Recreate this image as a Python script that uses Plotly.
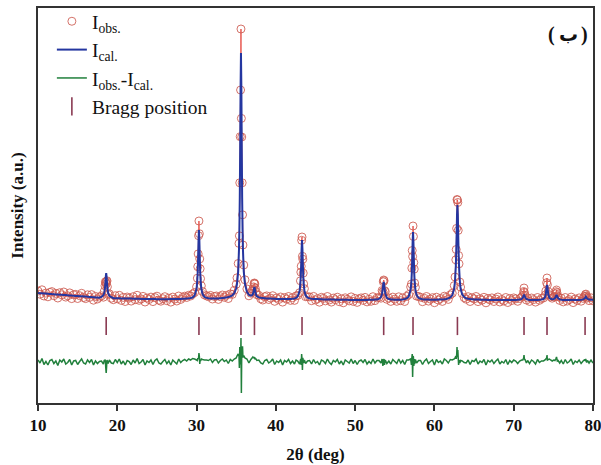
import plotly.graph_objects as go

# ---------------- data (2theta in degrees, intensity in arbitrary counts) ----------------
TWO_THETA = [
    # 10 - 17.75
    10.0, 10.25, 10.5, 10.75, 11.0, 11.25, 11.5, 11.75, 12.0, 12.25, 12.5, 12.75, 13.0, 13.25, 13.5, 13.75,
    14.0, 14.25, 14.5, 14.75, 15.0, 15.25, 15.5, 15.75, 16.0, 16.25, 16.5, 16.75, 17.0, 17.25, 17.5, 17.75,
    # peak 18.6
    18.0, 18.25, 18.35, 18.45, 18.5, 18.55, 18.6, 18.65, 18.7, 18.75, 18.85, 19.0, 19.25,
    # 19.5 - 29.5
    19.5, 19.75, 20.0, 20.25, 20.5, 20.75, 21.0, 21.25, 21.5, 21.75, 22.0, 22.25, 22.5, 22.75, 23.0, 23.25,
    23.5, 23.75, 24.0, 24.25, 24.5, 24.75, 25.0, 25.25, 25.5, 25.75, 26.0, 26.25, 26.5, 26.75, 27.0, 27.25,
    27.5, 27.75, 28.0, 28.25, 28.5, 28.75, 29.0, 29.25, 29.5,
    # peak 30.3
    29.75, 30.0, 30.1, 30.15, 30.2, 30.25, 30.3, 30.35, 30.4, 30.45, 30.5, 30.6, 30.75, 31.0,
    # 31.25 - 34.75
    31.25, 31.5, 31.75, 32.0, 32.25, 32.5, 32.75, 33.0, 33.25, 33.5, 33.75, 34.0, 34.25, 34.5, 34.75,
    # peak 35.6
    35.0, 35.1, 35.25, 35.35, 35.4, 35.45, 35.5, 35.55, 35.6, 35.65, 35.7, 35.75, 35.8, 35.85, 35.95, 36.1,
    36.35, 36.6,
    # peak 37.3
    36.85, 37.0, 37.1, 37.2, 37.25, 37.3, 37.35, 37.4, 37.5, 37.6, 37.85, 38.1,
    # 38.35 - 42.55
    38.35, 38.6, 38.85, 39.1, 39.35, 39.6, 39.85, 40.1, 40.35, 40.6, 40.85, 41.1, 41.35, 41.6, 41.85, 42.1,
    42.35, 42.55,
    # peak 43.3
    42.75, 43.0, 43.1, 43.15, 43.2, 43.25, 43.3, 43.35, 43.4, 43.45, 43.5, 43.6, 43.75, 44.0,
    # 44.25 - 52.75
    44.25, 44.5, 44.75, 45.0, 45.25, 45.5, 45.75, 46.0, 46.25, 46.5, 46.75, 47.0, 47.25, 47.5, 47.75, 48.0,
    48.25, 48.5, 48.75, 49.0, 49.25, 49.5, 49.75, 50.0, 50.25, 50.5, 50.75, 51.0, 51.25, 51.5, 51.75, 52.0,
    52.25, 52.5, 52.75,
    # peak 53.6
    53.0, 53.25, 53.4, 53.5, 53.55, 53.6, 53.65, 53.7, 53.8, 54.0, 54.25,
    # 54.5 - 56.5
    54.5, 54.75, 55.0, 55.25, 55.5, 55.75, 56.0, 56.25, 56.5,
    # peak 57.3
    56.75, 57.0, 57.1, 57.15, 57.2, 57.25, 57.3, 57.35, 57.4, 57.45, 57.5, 57.6, 57.75, 58.0,
    # 58.25 - 62.0
    58.25, 58.5, 58.75, 59.0, 59.25, 59.5, 59.75, 60.0, 60.25, 60.5, 60.75, 61.0, 61.25, 61.5, 61.75, 62.0,
    # peak 62.9
    62.25, 62.5, 62.6, 62.7, 62.75, 62.8, 62.85, 62.9, 62.95, 63.0, 63.05, 63.1, 63.2, 63.3, 63.5, 63.75,
    # 64.0 - 70.5
    64.0, 64.25, 64.5, 64.75, 65.0, 65.25, 65.5, 65.75, 66.0, 66.25, 66.5, 66.75, 67.0, 67.25, 67.5, 67.75,
    68.0, 68.25, 68.5, 68.75, 69.0, 69.25, 69.5, 69.75, 70.0, 70.25, 70.5,
    # peak 71.3
    70.75, 71.0, 71.15, 71.25, 71.3, 71.35, 71.45, 71.6, 71.75,
    # 72.0 - 73.5
    72.0, 72.25, 72.5, 72.75, 73.0, 73.25, 73.5,
    # peak 74.2
    73.75, 73.95, 74.05, 74.15, 74.2, 74.25, 74.35, 74.5, 74.65, 74.85,
    # peak 75.4
    75.05, 75.2, 75.3, 75.35, 75.4, 75.45, 75.5, 75.6, 75.8,
    # 76.0 - 78.5
    76.0, 76.25, 76.5, 76.75, 77.0, 77.25, 77.5, 77.75, 78.0, 78.25, 78.5,
    # peak 79.1
    78.75, 78.9, 79.0, 79.05, 79.1, 79.15, 79.2, 79.3, 79.5,
    79.75, 80.0,
]

I_CAL = [
    1100, 1098, 1097, 1095, 1094, 1092, 1091, 1089, 1088, 1086, 1085, 1083, 1082, 1080, 1079, 1077,
    1076, 1074, 1073, 1071, 1070, 1068, 1067, 1065, 1064, 1062, 1061, 1059, 1058, 1056, 1055, 1053,
    1062, 1078, 1100, 1152, 1202, 1265, 1300, 1265, 1202, 1152, 1100, 1072, 1058,
    1048, 1048, 1047, 1047, 1046, 1046, 1045, 1045, 1044, 1044, 1043, 1043, 1042, 1042, 1041, 1041,
    1040, 1040, 1040, 1039, 1039, 1039, 1038, 1038, 1038, 1038, 1038, 1038, 1038, 1039, 1039, 1039,
    1040, 1040, 1041, 1042, 1043, 1045, 1047, 1050, 1055,
    1075, 1142, 1233, 1323, 1461, 1633, 1730, 1633, 1461, 1323, 1233, 1142, 1090, 1061,
    1052, 1048, 1046, 1045, 1045, 1045, 1046, 1048, 1050, 1052, 1056, 1060, 1066, 1076, 1097,
    1147, 1192, 1315, 1536, 1732, 2052, 2543, 3156, 3500, 3156, 2543, 2052, 1732, 1536, 1315, 1192,
    1111, 1082,
    1073, 1078, 1088, 1121, 1146, 1160, 1145, 1118, 1082, 1068, 1056, 1052,
    1050, 1048, 1046, 1045, 1044, 1043, 1042, 1041, 1040, 1040, 1039, 1039, 1039, 1040, 1041, 1043,
    1046, 1051,
    1065, 1123, 1202, 1279, 1398, 1547, 1630, 1547, 1398, 1279, 1202, 1123, 1078, 1053,
    1046, 1043, 1041, 1040, 1039, 1038, 1037, 1036, 1036, 1035, 1035, 1034, 1034, 1033, 1033, 1033,
    1032, 1032, 1032, 1032, 1031, 1031, 1031, 1031, 1031, 1031, 1031, 1031, 1031, 1031, 1032, 1032,
    1033, 1034, 1035,
    1041, 1058, 1095, 1154, 1192, 1210, 1192, 1154, 1095, 1052, 1040,
    1036, 1034, 1033, 1032, 1032, 1033, 1036, 1040, 1046,
    1064, 1131, 1220, 1309, 1445, 1615, 1710, 1615, 1445, 1309, 1220, 1131, 1079, 1050,
    1042, 1038, 1036, 1035, 1034, 1033, 1033, 1033, 1033, 1034, 1035, 1036, 1038, 1041, 1046, 1056,
    1078, 1144, 1220, 1372, 1505, 1686, 1885, 1980, 1885, 1686, 1505, 1372, 1220, 1144, 1086, 1059,
    1048, 1043, 1040, 1038, 1036, 1035, 1034, 1033, 1033, 1032, 1032, 1031, 1031, 1031, 1030, 1030,
    1030, 1030, 1030, 1030, 1030, 1030, 1030, 1030, 1031, 1031, 1032,
    1034, 1040, 1055, 1075, 1080, 1075, 1055, 1040, 1035,
    1031, 1030, 1029, 1029, 1030, 1032, 1035,
    1040, 1058, 1090, 1163, 1180, 1163, 1090, 1052, 1042, 1038,
    1040, 1048, 1062, 1073, 1080, 1073, 1062, 1048, 1036,
    1033, 1031, 1030, 1029, 1029, 1029, 1029, 1030, 1030, 1031, 1033,
    1036, 1042, 1052, 1058, 1064, 1058, 1052, 1042, 1034,
    1032, 1032,
]

# difference curve I_obs - I_cal
I_DIFF = [
    20, -10, 35, -25, 5, -30, 15, 25, -15, 10, -35, 20, 0, 30, -20, -5,
    25, -30, 10, 15, -25, 5, 30, -10, -20, 20, -5, 25, -30, 10, -15, 5,
    10, -20, 15, 20, 10, -60, -110, -50, 20, 10, -15, 20, -10,
    -15, 25, -5, 30, -20, 10, -30, 15, 5, -25, 20, -10, 35, -15, 0, 25,
    -30, 10, -5, 20, -25, 15, 30, -10, -20, 5, 25, -15, 10, -30, 20, 0,
    -20, 30, -5, 15, 25, 10, 30, 20, 35,
    30, 20, 15, 40, 30, 40, 90, 60, -20, 20, 10, 30, 25, 20,
    20, 15, 30, -5, 20, 25, -10, 15, 30, 5, 20, -15, 25, 10, 30,
    40, 60, 80, 60, -60, 150, 120, -26, 240, -310, 117, 150, 150, 44, 65, 40,
    30, -10,
    25, 40, 50, 40, 50, 40, 45, 30, 30, 15, 20, -10,
    -20, 15, 25, -10, 5, 30, -25, 10, -5, 20, -30, 15, 0, 25, -15, 10,
    -20, 20,
    10, -20, 20, 30, -30, 80, 30, -80, 40, 20, -10, 20, -15, 10,
    15, -20, 25, -10, 5, -30, 20, 10, -15, 30, -5, -25, 15, 0, 25, -20,
    10, -30, 20, 5, -10, 30, -15, 15, -25, 10, 20, -5, 25, -20, 5, -15,
    30, -10, 15,
    15, -10, 30, -40, 20, 20, 30, -30, 20, -15, 10,
    -20, 25, 5, -15, 30, -10, 15, -25, 20,
    20, 30, -30, 40, 80, -150, 60, 50, -40, 30, -20, 25, -10, 15,
    15, -25, 10, 30, -15, 5, 20, -30, 25, -5, 10, -20, 30, 15, -10, 25,
    20, 30, 40, 60, 30, 60, 150, 50, 120, 40, -30, 20, -10, 15, 10, -5,
    -10, 20, -25, 15, 5, 30, -20, 10, -5, 25, -30, 15, 0, 20, -15, 10,
    30, -20, 5, -10, 25, -25, 15, -5, 20, 10, -15,
    10, 20, 20, 40, 70, 30, 20, -10, 15,
    -15, 20, 5, -20, 25, -5, 10,
    10, 20, 30, 40, 70, 20, 25, 30, 20, 10,
    20, 15, 30, 40, 50, 30, 10, 15, -10,
    15, -20, 25, -10, 5, 30, -25, 10, -5, 20, -15,
    10, 20, 15, 25, 25, 10, -5, 15, -10,
    20, -10,
]

BRAGG_POS = [18.6, 30.3, 35.6, 37.3, 43.3, 53.6, 57.3, 62.9, 71.3, 74.2, 79.0]

DIFF_OFFSET = 410      # vertical shift of the difference curve
BRAGG_LEVEL = 770      # vertical level of the Bragg tick row
X_TICKS = [10, 20, 30, 40, 50, 60, 70, 80]

assert len(TWO_THETA) == len(I_CAL) == len(I_DIFF), (len(TWO_THETA), len(I_CAL), len(I_DIFF))

I_OBS = [c + d for c, d in zip(I_CAL, I_DIFF)]
DIFF_PLOT = [d + DIFF_OFFSET for d in I_DIFF]

SERIF = "Liberation Serif, Times New Roman, serif"

fig = go.Figure()

fig.add_trace(go.Scatter(
    x=TWO_THETA, y=I_OBS, mode="lines",
    line=dict(color="rgba(225,50,40,0.75)", width=1, simplify=False),
    showlegend=False, hoverinfo="skip"))

fig.add_trace(go.Scatter(
    x=TWO_THETA, y=I_OBS, mode="markers",
    marker=dict(symbol="circle-open", size=8, color="rgba(205,90,80,0.85)", line=dict(width=1)),
    name="I<sub>obs.</sub>", legendgroup="a"))

fig.add_trace(go.Scatter(
    x=TWO_THETA, y=I_CAL, mode="lines",
    line=dict(color="#2436a0", width=2, simplify=False),
    name="I<sub>cal.</sub>", legendgroup="b"))

fig.add_trace(go.Scatter(
    x=TWO_THETA, y=DIFF_PLOT, mode="lines",
    line=dict(color="#21803c", width=1.5, simplify=False),
    name="I<sub>obs.</sub>-I<sub>cal.</sub>", legendgroup="c"))

fig.add_trace(go.Scatter(
    x=BRAGG_POS, y=[BRAGG_LEVEL] * len(BRAGG_POS), mode="markers",
    marker=dict(symbol="line-ns-open", size=13, color="#8a3a52", line=dict(width=1.6, color="#8a3a52")),
    name="Bragg position", legendgroup="d"))

label_font = dict(family="Liberation Serif, DejaVu Serif", size=20, color="#111", weight="bold")
arabic_font = dict(family="DejaVu Sans, Noto Sans", size=19, color="#111", weight="bold")

fig.update_layout(
    width=601, height=465,
    margin=dict(l=38, r=8, t=8, b=62, autoexpand=False),
    paper_bgcolor="white", plot_bgcolor="white",
    font=dict(family=SERIF, color="#111", size=17),
    legend=dict(x=0.025, y=1.015, xanchor="left", yanchor="top",
                bgcolor="rgba(0,0,0,0)", font=dict(family=SERIF, size=19.5, color="#111"),
                tracegroupgap=0, itemwidth=30),
    annotations=[
        dict(text="(", x=0.926, y=0.932, xref="paper", yref="paper", xanchor="center", yanchor="middle",
             showarrow=False, font=label_font),
        dict(text="\u0628", x=0.955, y=0.935, xref="paper", yref="paper", xanchor="center", yanchor="middle",
             showarrow=False, font=arabic_font),
        dict(text=")", x=0.984, y=0.932, xref="paper", yref="paper", xanchor="center", yanchor="middle",
             showarrow=False, font=label_font),
    ],
)

fig.update_xaxes(
    range=[10, 80], tickvals=X_TICKS, ticks="outside", ticklen=6, tickwidth=1.5, tickcolor="#333",
    showline=True, linecolor="#333", linewidth=1.5, mirror=True, showgrid=False, zeroline=False,
    automargin=False, ticklabeloverflow="allow",
    tickfont=dict(family=SERIF, size=17, weight="bold", color="#111"),
    title=dict(text="2θ (deg)", font=dict(family=SERIF, size=17, weight="bold", color="#111"), standoff=14),
)
fig.update_yaxes(
    range=[0, 3950], showticklabels=False, ticks="", automargin=False,
    showline=True, linecolor="#333", linewidth=1.5, mirror=True, showgrid=False, zeroline=False,
    title=dict(text="Intensity (a.u.)", font=dict(family=SERIF, size=17, weight="bold", color="#111"), standoff=8),
)

fig.write_html("out.html")
